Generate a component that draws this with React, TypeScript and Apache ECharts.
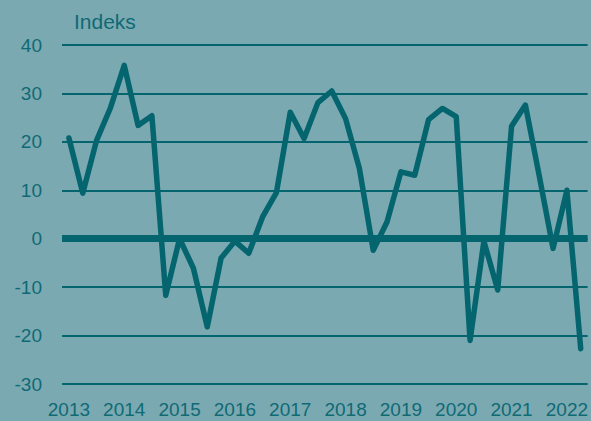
import React, { useEffect, useRef } from "react";
import * as echarts from "echarts";

const years = ["2013", "2014", "2015", "2016", "2017", "2018", "2019", "2020", "2021", "2022"];
const quarters = ["K1", "K2", "K3", "K4"];
const categories: string[] = [];
years.forEach((y) => quarters.forEach((q) => categories.push(y + q)));
const cats = categories.slice(0, 38);

const values = [
  20.8, 9.4, 20.3, 27.0, 35.8, 23.4, 25.4, -11.7,
  0.0, -6.1, -18.2, -4.0, -0.5, -3.0, 4.5, 9.5,
  26.1, 20.7, 28.1, 30.5, 24.8, 14.5, -2.4, 3.5,
  13.8, 13.1, 24.6, 26.9, 25.2, -21.0, -0.5, -10.6,
  23.2, 27.6, 13.0, -2.0, 10.0, -22.7,
];

const yTicks = { min: -30, max: 40, interval: 10 };
const titleText = "Indeks";

const BG = "#7ba9b2";
const DARK = "#05656e";
const TEXT = "#0f6a74";
const FONT = "'Liberation Sans', Arial, sans-serif";

export default function App() {
  const ref = useRef<HTMLDivElement>(null);
  useEffect(() => {
    if (!ref.current) return;
    const chart = echarts.init(ref.current, undefined, { renderer: "svg" });
    chart.setOption({
      animation: false,
      backgroundColor: BG,
      grid: { left: 62, right: 1, top: 45, bottom: 37, containLabel: false },
      graphic: [
        {
          type: "text",
          left: 74,
          top: 11,
          style: { text: titleText, fill: TEXT, font: `21px ${FONT}` },
        },
      ],
      xAxis: {
        type: "category",
        data: cats,
        boundaryGap: true,
        axisTick: { show: false },
        axisLine: { onZero: true, lineStyle: { color: DARK, width: 7, cap: "butt" } },
        axisLabel: {
          interval: 3,
          color: TEXT,
          fontFamily: FONT,
          fontSize: 19,
          margin: 16,
          formatter: (v: string) => v.slice(0, 4),
        },
      },
      yAxis: {
        type: "value",
        min: yTicks.min,
        max: yTicks.max,
        interval: yTicks.interval,
        axisLine: { show: false },
        axisTick: { show: false },
        axisLabel: { color: TEXT, fontFamily: FONT, fontSize: 19, margin: 20 },
        splitLine: { lineStyle: { color: DARK, width: 2 } },
      },
      series: [
        {
          type: "line",
          data: values,
          symbol: "none",
          lineStyle: { color: DARK, width: 5.5, cap: "round", join: "round" },
          z: 3,
        },
      ],
    });
    return () => chart.dispose();
  }, []);
  return <div ref={ref} style={{ width: 591, height: 421, position: "absolute", left: 0, top: 0 }} />;
}
